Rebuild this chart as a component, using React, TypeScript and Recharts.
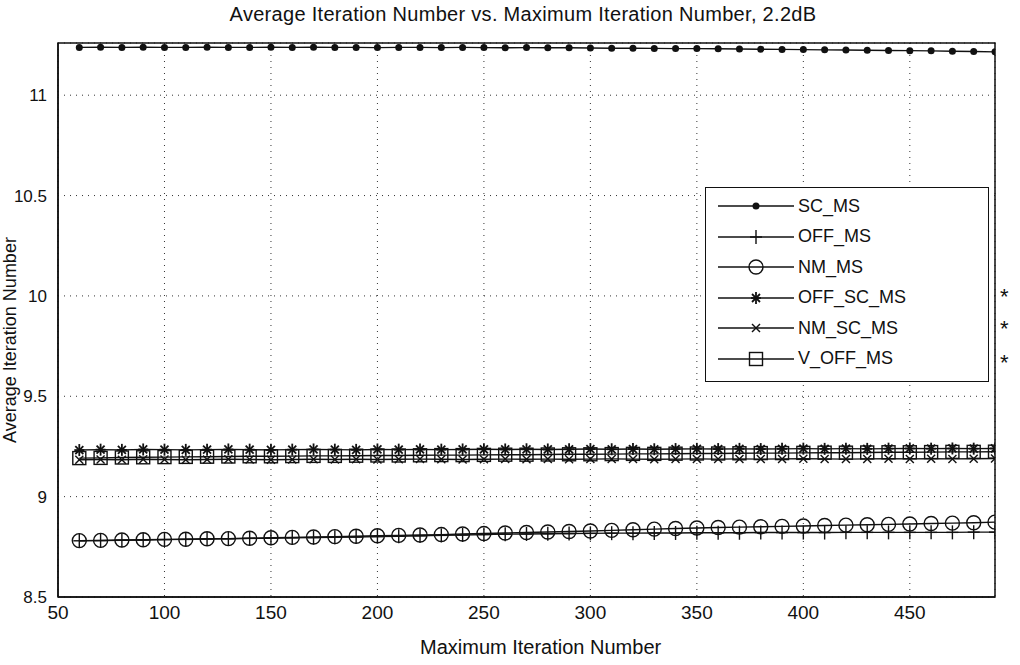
import React from 'react';
import { LineChart, Line, XAxis, YAxis, CartesianGrid, ReferenceArea } from 'recharts';

const maxIter = [
  60, 70, 80, 90, 100, 110, 120, 130, 140, 150,
  160, 170, 180, 190, 200, 210, 220, 230, 240, 250,
  260, 270, 280, 290, 300, 310, 320, 330, 340, 350,
  360, 370, 380, 390, 400, 410, 420, 430, 440, 450,
  460, 470, 480, 490,
];

const scMs = [
  11.238, 11.239, 11.238, 11.239, 11.238, 11.238, 11.239, 11.238, 11.238, 11.239,
  11.238, 11.239, 11.238, 11.238, 11.237, 11.238, 11.238, 11.237, 11.238, 11.237,
  11.236, 11.237, 11.236, 11.236, 11.235, 11.234, 11.234, 11.233, 11.232, 11.232,
  11.231, 11.230, 11.229, 11.228, 11.227, 11.226, 11.225, 11.224, 11.223, 11.222,
  11.221, 11.219, 11.218, 11.216,
];

const offMs = [
  8.780, 8.781, 8.783, 8.784, 8.786, 8.787, 8.789, 8.790, 8.792, 8.793,
  8.795, 8.796, 8.798, 8.799, 8.801, 8.803, 8.805, 8.807, 8.809, 8.811,
  8.813, 8.814, 8.815, 8.816, 8.817, 8.818, 8.818, 8.819, 8.819, 8.820,
  8.820, 8.820, 8.821, 8.821, 8.821, 8.821, 8.822, 8.822, 8.822, 8.822,
  8.822, 8.822, 8.823, 8.823,
];

const nmMs = [
  8.781, 8.782, 8.784, 8.785, 8.787, 8.788, 8.790, 8.791, 8.793, 8.795,
  8.797, 8.799, 8.801, 8.803, 8.805, 8.807, 8.809, 8.811, 8.814, 8.816,
  8.819, 8.821, 8.824, 8.826, 8.829, 8.832, 8.835, 8.838, 8.841, 8.844,
  8.846, 8.848, 8.850, 8.852, 8.854, 8.856, 8.858, 8.860, 8.862, 8.864,
  8.866, 8.868, 8.870, 8.873,
];

const offScMs = [
  9.232, 9.234, 9.233, 9.235, 9.234, 9.233, 9.234, 9.235, 9.234, 9.233,
  9.234, 9.235, 9.234, 9.233, 9.235, 9.234, 9.235, 9.234, 9.235, 9.236,
  9.235, 9.236, 9.235, 9.236, 9.237, 9.236, 9.237, 9.236, 9.237, 9.238,
  9.237, 9.238, 9.237, 9.238, 9.239, 9.238, 9.239, 9.238, 9.239, 9.240,
  9.239, 9.240, 9.239, 9.240,
];

const nmScMs = [
  9.184, 9.185, 9.184, 9.186, 9.185, 9.184, 9.185, 9.186, 9.185, 9.184,
  9.185, 9.186, 9.185, 9.186, 9.185, 9.186, 9.187, 9.186, 9.185, 9.186,
  9.187, 9.186, 9.187, 9.186, 9.187, 9.188, 9.187, 9.186, 9.187, 9.188,
  9.187, 9.188, 9.187, 9.188, 9.189, 9.188, 9.187, 9.188, 9.189, 9.188,
  9.189, 9.188, 9.189, 9.190,
];

const vOffMs = [
  9.192, 9.193, 9.195, 9.196, 9.197, 9.198, 9.199, 9.200, 9.201, 9.201,
  9.202, 9.203, 9.203, 9.204, 9.205, 9.205, 9.206, 9.207, 9.207, 9.208,
  9.209, 9.209, 9.210, 9.211, 9.211, 9.212, 9.213, 9.213, 9.214, 9.215,
  9.215, 9.216, 9.217, 9.217, 9.218, 9.219, 9.219, 9.220, 9.221, 9.221,
  9.222, 9.223, 9.223, 9.224,
];

const xTicks = [50, 100, 150, 200, 250, 300, 350, 400, 450];
const yTicks = [8.5, 9, 9.5, 10, 10.5, 11];

const SERIES = [
  { key: 'SC_MS', values: scMs, mark: 'dot' },
  { key: 'OFF_MS', values: offMs, mark: 'plus' },
  { key: 'NM_MS', values: nmMs, mark: 'circle' },
  { key: 'OFF_SC_MS', values: offScMs, mark: 'star' },
  { key: 'NM_SC_MS', values: nmScMs, mark: 'cross' },
  { key: 'V_OFF_MS', values: vOffMs, mark: 'square' },
];

const data = maxIter.map((x, i) => {
  const row: Record<string, number> = { x };
  SERIES.forEach(s => { row[s.key] = s.values[i]; });
  return row;
});

const FONT = '"Liberation Sans", Arial, sans-serif';
const INK = '#111';

const Mark = ({ kind, cx, cy }: { kind: string; cx: number; cy: number }) => {
  if (cx == null || cy == null) return null;
  const st = { stroke: INK, strokeWidth: 1.4, fill: 'none' };
  switch (kind) {
    case 'dot':
      return <circle cx={cx} cy={cy} r={3.5} fill={INK} />;
    case 'plus':
      return (
        <g {...st}>
          <line x1={cx - 6} y1={cy} x2={cx + 6} y2={cy} />
          <line x1={cx} y1={cy - 7} x2={cx} y2={cy + 7} />
        </g>
      );
    case 'circle':
      return <circle cx={cx} cy={cy} r={7} {...st} />;
    case 'star':
      return (
        <g {...st} strokeWidth={1.8}>
          <line x1={cx - 5} y1={cy} x2={cx + 5} y2={cy} />
          <line x1={cx} y1={cy - 6} x2={cx} y2={cy + 6} />
          <line x1={cx - 4} y1={cy - 4} x2={cx + 4} y2={cy + 4} />
          <line x1={cx - 4} y1={cy + 4} x2={cx + 4} y2={cy - 4} />
        </g>
      );
    case 'cross':
      return (
        <g {...st}>
          <line x1={cx - 4} y1={cy - 4} x2={cx + 4} y2={cy + 4} />
          <line x1={cx - 4} y1={cy + 4} x2={cx + 4} y2={cy - 4} />
        </g>
      );
    case 'square':
      return <rect x={cx - 6.5} y={cy - 6.5} width={13} height={13} {...st} />;
    default:
      return null;
  }
};

const LegendBox = () => (
  <div style={{ position: 'absolute', left: 705, top: 187, width: 282, height: 190, border: `1.5px solid ${INK}`, background: '#fff', paddingTop: 3 }}>
    {SERIES.map(s => (
      <div key={s.key} style={{ display: 'flex', alignItems: 'center', height: 30.5 }}>
        <svg width={80} height={20} style={{ marginLeft: 12 }}>
          <line x1={0} y1={10} x2={76} y2={10} stroke={INK} strokeWidth={1.3} />
          <Mark kind={s.mark} cx={38} cy={10} />
        </svg>
        <span style={{ fontFamily: FONT, fontSize: 18, color: INK }}>{s.key}</span>
      </div>
    ))}
  </div>
);

const App = () => {
  return (
    <div style={{ position: 'absolute', left: 0, top: 0, width: 1020, height: 665, background: '#fff' }}>
      <LineChart width={1020} height={665} data={data} margin={{ top: 43, right: 25, bottom: 28, left: 8 }}>
        <CartesianGrid stroke="#333" strokeDasharray="1 5" />
        <XAxis
          dataKey="x"
          type="number"
          domain={[50, 490]}
          ticks={xTicks}
          allowDataOverflow
          height={40}
          axisLine={{ stroke: INK, strokeWidth: 1.5 }}
          tickLine={false}
          tick={{ fontFamily: FONT, fontSize: 19, fill: INK }}
          tickMargin={3}
        />
        <YAxis
          type="number"
          domain={[8.5, 11.26]}
          ticks={yTicks}
          allowDataOverflow
          width={50}
          axisLine={{ stroke: INK, strokeWidth: 1.5 }}
          tickLine={false}
          tick={{ fontFamily: FONT, fontSize: 17, fill: INK }}
          tickMargin={5}
          tickFormatter={(v: number) => String(v)}
        />
        <ReferenceArea x1={50} x2={490} y1={8.5} y2={11.26} fill="none" stroke={INK} strokeWidth={1.5} />
        {SERIES.map(s => (
          <Line
            key={s.key}
            dataKey={s.key}
            name={s.key}
            stroke={INK}
            strokeWidth={1.4}
            isAnimationActive={false}
            dot={(p: any) => <Mark key={`${s.key}-${p.index}`} kind={s.mark} cx={p.cx} cy={p.cy} />}
            activeDot={false}
          />
        ))}
      </LineChart>
      <div style={{ position: 'absolute', left: 0, width: 1046, top: 3, textAlign: 'center', fontFamily: FONT, fontSize: 20, letterSpacing: 0.3, color: INK }}>
        Average Iteration Number vs. Maximum Iteration Number, 2.2dB
      </div>
      <div style={{ position: 'absolute', left: 10, top: 340, transform: 'translate(-50%,-50%) rotate(-90deg)', whiteSpace: 'nowrap', fontFamily: FONT, fontSize: 18, color: INK }}>
        Average Iteration Number
      </div>
      <div style={{ position: 'absolute', left: 420, top: 636, whiteSpace: 'nowrap', fontFamily: FONT, fontSize: 20, color: INK }}>
        Maximum Iteration Number
      </div>
      {[284, 316, 350].map(t => (
        <div key={t} style={{ position: 'absolute', left: 1000, top: t, fontFamily: FONT, fontSize: 22, color: INK }}>*</div>
      ))}
      <LegendBox />
    </div>
  );
};

export default App;
